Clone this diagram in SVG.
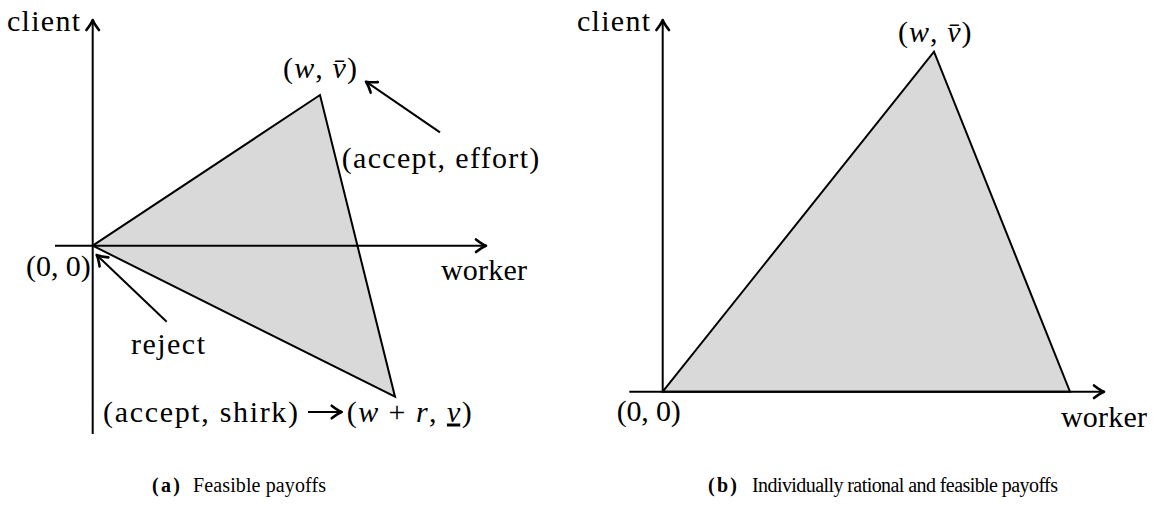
<svg xmlns="http://www.w3.org/2000/svg" width="1159" height="521" viewBox="0 0 1159 521">
<style>
text{font-family:'Liberation Serif','Times New Roman',serif;fill:#000}
.m{font-size:30px}
.cap{font-size:20px}
.it{font-style:italic}
.tri{fill:#d9d9d9;stroke:#000;stroke-width:2;stroke-linejoin:miter}
.arr{stroke:#000;stroke-width:2;fill:none;marker-end:url(#ah)}
</style>
<defs>
<marker id="ah" markerUnits="userSpaceOnUse" markerWidth="20" markerHeight="20" viewBox="-12 -10 14 20" refX="0" refY="0" orient="auto">
<path d="M-10,-6.3 Q-4,-1.6 0,0 Q-4,1.6 -10,6.3" fill="none" stroke="#000" stroke-width="2.6" stroke-linecap="round" stroke-linejoin="round"/>
</marker>
</defs>

<g id="panel-a">
<g id="triangle-a"><polygon class="tri" points="92.7,245.7 320,95 395,396.7"/></g>
<g id="axes-a">
<line class="arr" x1="92.7" y1="434" x2="92.7" y2="20"/>
<line class="arr" x1="55" y1="245.7" x2="486" y2="245.7"/>
</g>
<g id="label-client-a"><text class="m" x="7" y="31" textLength="73">client</text></g>
<g id="label-worker-a"><text class="m" x="441" y="280" textLength="86">worker</text></g>
<g id="label-origin-a"><text class="m" x="26" y="276" textLength="64.7">(0, 0)</text></g>
<g id="label-top-a"><text class="m" x="283" y="78" textLength="74">(<tspan class="it">w</tspan>, <tspan class="it">v&#772;</tspan>)</text></g>
<g id="label-effort"><text class="m" x="341.7" y="168" textLength="197.6">(accept, effort)</text></g>
<g id="label-reject"><text class="m" x="131" y="354" textLength="74">reject</text></g>
<g id="label-shirk"><text class="m" x="103" y="421.5" textLength="195">(accept, shirk)</text></g>
<g id="label-bottom-a"><text class="m" x="346.7" y="421.5" textLength="125">(<tspan class="it">w</tspan> + <tspan class="it">r</tspan>, <tspan class="it" text-decoration="underline">v</tspan>)</text></g>
</g>

<g id="connectors">
<line class="arr" x1="440" y1="132.3" x2="366" y2="81.7"/>
<line class="arr" x1="166.7" y1="321.7" x2="96.7" y2="255"/>
<line class="arr" x1="308" y1="412" x2="341.7" y2="412"/>
</g>

<g id="panel-b">
<g id="triangle-b"><polygon class="tri" points="662.7,391.7 934,51.7 1070,391.7"/></g>
<g id="axes-b">
<line class="arr" x1="662.7" y1="391.7" x2="662.7" y2="20"/>
<line class="arr" x1="629.3" y1="391.7" x2="1104" y2="391.7"/>
</g>
<g id="label-client-b"><text class="m" x="577" y="31" textLength="73">client</text></g>
<g id="label-worker-b"><text class="m" x="1061" y="427" textLength="86">worker</text></g>
<g id="label-origin-b"><text class="m" x="616.7" y="421" textLength="64">(0, 0)</text></g>
<g id="label-top-b"><text class="m" x="898" y="41.6" textLength="73.5">(<tspan class="it">w</tspan>, <tspan class="it">v&#772;</tspan>)</text></g>
</g>

<g id="captions">
<text class="cap" x="152" y="492" textLength="28"><tspan font-weight="bold">(a)</tspan></text>
<text class="cap" x="193" y="492" textLength="133">Feasible payoffs</text>
<text class="cap" x="708" y="492" textLength="29"><tspan font-weight="bold">(b)</tspan></text>
<text class="cap" x="752" y="492" textLength="306">Individually rational and feasible payoffs</text>
</g>
</svg>
